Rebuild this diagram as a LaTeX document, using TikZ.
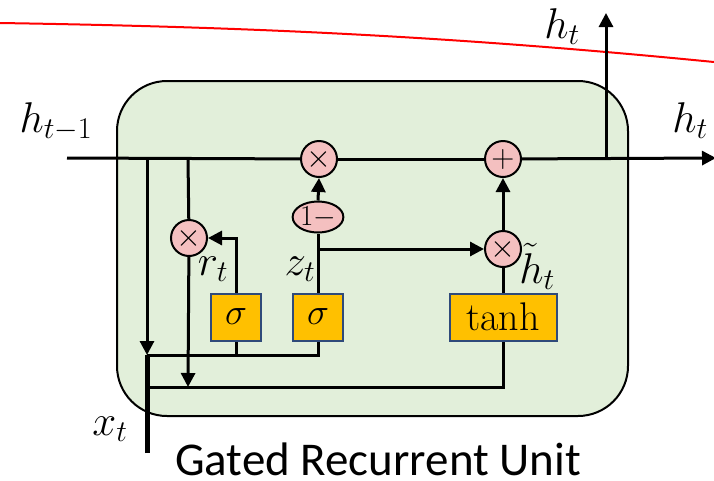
\RequirePackage{fix-cm}
\documentclass[tikz,border=0pt]{standalone}
\usepackage{fontspec}
\newfontfamily\calib{Carlito}
\usetikzlibrary{arrows.meta,shapes.geometric}
\definecolor{cellg}{HTML}{E2EFDA}
\definecolor{opc}{HTML}{F4C0C0}
\definecolor{gatec}{HTML}{FFC000}
\definecolor{gateb}{HTML}{2F4A7A}
\begin{document}
\begin{tikzpicture}[x=1pt,y=-1pt,
  ln/.style={line width=3pt},
  thk/.style={line width=5pt},
  arr/.style={line width=3pt,-{Triangle[length=14pt,width=14pt]}},
  op/.style={circle,draw,line width=2pt,fill=opc,minimum size=36pt,inner sep=0pt,font=\fontsize{32}{32}\selectfont},
  gate/.style={draw=gateb,line width=2pt,fill=gatec,minimum height=47pt,inner sep=0pt},
  lab/.style={inner sep=0pt,anchor=base,font=\fontsize{43}{43}\selectfont}]
\useasboundingbox (0,0) rectangle (714,480);
% red curve
\draw[red,line width=2pt] (0,23) .. controls (250,27) and (450,36) .. (714,62);
% cell
\node[draw,fill=cellg,line width=2pt,rounded corners=50pt,minimum width=511pt,minimum height=335pt,inner sep=0pt] (cell) at (372.5,248.5) {};
% coordinates
\coordinate (hin) at (67,158);
\coordinate (hout) at (716,158);
\coordinate (up0) at (606,158);
\coordinate (up1) at (606,13);
\coordinate (d0) at (147,158);
\coordinate (d1) at (188,158);
\coordinate (d1b) at (188,387);
\coordinate (J1) at (147,355);
\coordinate (J2) at (147,387);
\coordinate (xb) at (147,453);
% operator nodes
\node[op] (opT) at (319,159) {$\times$};
\node[op] (opP) at (503,159) {$+$};
\node[op] (opR) at (189,238) {$\times$};
\node[op] (opH) at (503,249) {$\times$};
\node[ellipse,draw,line width=2pt,fill=opc,minimum width=49pt,minimum height=31pt,inner sep=0pt,font=\fontsize{29}{29}\selectfont] (oneM) at (318,217) {$1{-}$};
% gates
\node[gate,minimum width=50pt,font=\fontsize{37}{37}\selectfont] (sR) at (236,317) {$\sigma$};
\node[gate,minimum width=50pt,font=\fontsize{37}{37}\selectfont] (sZ) at (318,317) {$\sigma$};
\node[gate,minimum width=107pt,font=\fontsize{40}{40}\selectfont] (tanh) at (503,317) {$\tanh$};
% main line
\draw[ln] (hin) -- (opT);
\draw[ln] (opT) -- (opP);
\draw[arr] (opP) -- (hout);
\draw[arr] (up0) -- (up1);
% reset path
\draw[ln] (d1) -- (opR);
\draw[arr] (opR) -- (d1b);
\draw[arr] (d0) -- (J1);
\draw[thk] (xb) -- (J1);
\draw[ln] (J1) -| (sZ.south);
\draw[ln] (J1 -| sR) -- (sR.south);
\draw[ln] (J2) -| (tanh.south);
\draw[arr] (sR.north) |- (opR.east);
\draw[ln] (sZ.north) -- (oneM.south);
\draw[arr] (oneM.north) -- (opT.south);
\draw[arr] (sZ.north |- opH) -- (opH.west);
\draw[ln] (tanh.north) -- (opH.south);
\draw[arr] (opH.north) -- (opP.south);
% labels
\node[lab] (lhin) at (56,132) {$h_{t-1}$};
\node[lab] (lhout) at (690,132) {$h_t$};
\node[lab] (lhup) at (562,38) {$h_t$};
\node[lab] (lr) at (213,275) {$r_t$};
\node[lab] (lz) at (300,275) {$z_t$};
\node[lab] (lh) at (537,283) {$\tilde{h}_t$};
\node[lab] (lx) at (110,435) {$x_t$};
\node[anchor=base,inner sep=0pt,font=\calib\fontsize{47}{47}\selectfont] (title) at (378,475) {Gated Recurrent Unit};
\end{tikzpicture}
\end{document}
